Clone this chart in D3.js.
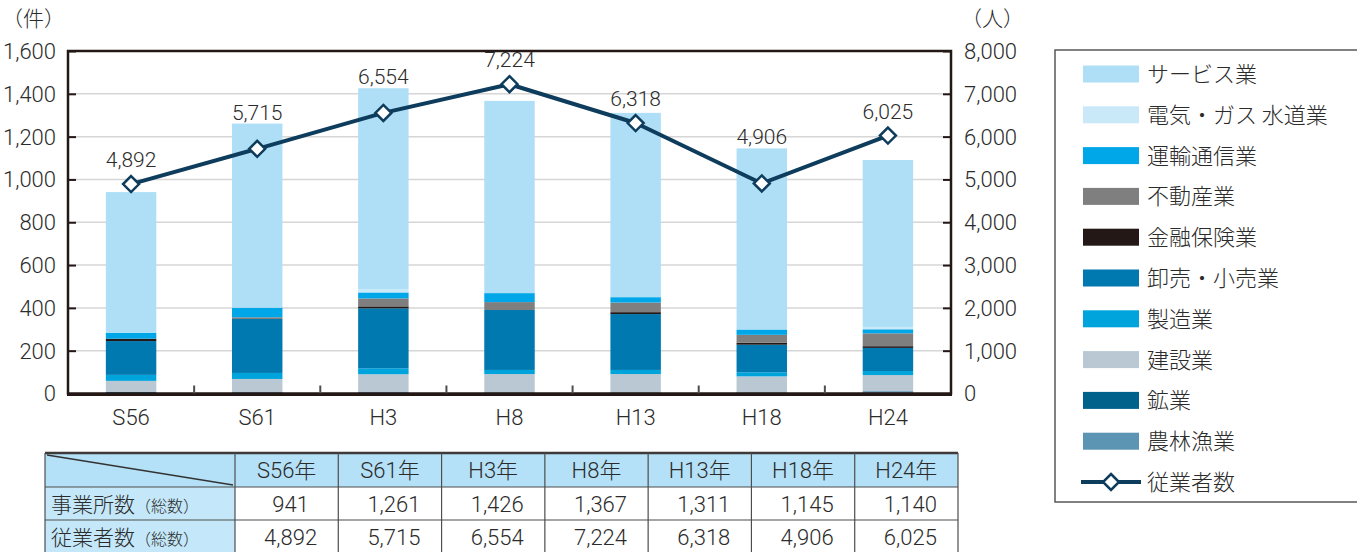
<!DOCTYPE html>
<meta charset="utf-8">
<title>事業所数と従業者数の推移</title>
<script src="https://d3js.org/d3.v7.min.js"></script>
<style>
  body { margin: 0; background: #fff; }
  text { font-family: "Roboto", "Noto Sans CJK JP", sans-serif; font-weight: 300; fill: #2b2b2b; }
  .jp { font-family: "Noto Sans CJK JP", sans-serif; font-weight: 300; }
</style>
<body>
<div id="chart"></div>
<script>
// years (x categories)
var years = ["S56", "S61", "H3", "H8", "H13", "H18", "H24"];

// establishments by industry (件)
var agri      = [3, 3, 3, 3, 3, 3, 11];          // 農林漁業
var mining    = [4, 3, 3, 2, 2, 2, 0];           // 鉱業
var construct = [52, 62, 84, 86, 86, 75, 75];    // 建設業
var manufact  = [28, 28, 28, 19, 19, 19, 19];    // 製造業
var retail    = [158, 252, 280, 280, 261, 129, 108]; // 卸売・小売業
var finance   = [11, 0, 9, 0, 9, 9, 8];          // 金融保険業
var realty    = [0, 8, 37, 37, 45, 37, 60];      // 不動産業
var transport = [28, 45, 28, 42, 25, 25, 19];    // 運輸通信業
var utility   = [0, 0, 14, 0, 0, 0, 11];         // 電気・ガス 水道業
var service   = [657, 860, 940, 898, 861, 846, 780]; // サービス業

// totals (table) and employees (line)
var offices   = [941, 1261, 1426, 1367, 1311, 1145, 1140];
var employees = [4892, 5715, 6554, 7224, 6318, 4906, 6025];

var leftTicks = [0, 200, 400, 600, 800, 1000, 1200, 1400, 1600];
var rightTicks = [0, 1000, 2000, 3000, 4000, 5000, 6000, 7000, 8000];

// series, bottom to top of the stack
var series = [
  {key: "agri", name: "農林漁業", values: agri, color: "#5b95b3"},
  {key: "mining", name: "鉱業", values: mining, color: "#00618b"},
  {key: "construct", name: "建設業", values: construct, color: "#b9c8d2"},
  {key: "manufact", name: "製造業", values: manufact, color: "#00a4dc"},
  {key: "retail", name: "卸売・小売業", values: retail, color: "#0079b0"},
  {key: "finance", name: "金融保険業", values: finance, color: "#231815"},
  {key: "realty", name: "不動産業", values: realty, color: "#7f7f7f"},
  {key: "transport", name: "運輸通信業", values: transport, color: "#00a7e8"},
  {key: "utility", name: "電気・ガス 水道業", values: utility, color: "#c9e9f9"},
  {key: "service", name: "サービス業", values: service, color: "#aedff6"}
];

var W = 1357, H = 552;
var plot = {left: 68, right: 951, top: 51, bottom: 393.5};

var svg = d3.select("#chart").append("svg")
  .attr("width", W).attr("height", H);

var rows = years.map(function(y, i) {
  var r = {year: y};
  series.forEach(function(s) { r[s.key] = s.values[i]; });
  return r;
});

var x = d3.scaleBand().domain(years)
  .range([plot.left, plot.right])
  .paddingInner(0.6).paddingOuter(0.3);
var step = x.step();

var y = d3.scaleLinear().domain([0, 1600]).range([plot.bottom, plot.top]);
var yR = d3.scaleLinear().domain([0, 8000]).range([plot.bottom, plot.top]);

// gridlines
svg.append("g").selectAll("line")
  .data(leftTicks.filter(function(t) { return t > 0 && t < 1600; }))
  .enter().append("line")
    .attr("x1", plot.left).attr("x2", plot.right)
    .attr("y1", function(d) { return y(d); })
    .attr("y2", function(d) { return y(d); })
    .attr("stroke", "#d6d6d6").attr("stroke-width", 1.5);

// stacked bars
var stack = d3.stack().keys(series.map(function(s) { return s.key; }));
var layers = stack(rows);
svg.append("g").selectAll("g")
  .data(layers)
  .enter().append("g")
    .attr("fill", function(d, i) { return series[i].color; })
  .selectAll("rect")
  .data(function(d) { return d; })
  .enter().append("rect")
    .attr("x", function(d) { return x(d.data.year); })
    .attr("width", x.bandwidth())
    .attr("y", function(d) { return y(d[1]); })
    .attr("height", function(d) { return y(d[0]) - y(d[1]); });

// frame and axes
var axisColor = "#231815";
svg.append("rect")
  .attr("x", plot.left).attr("y", plot.top)
  .attr("width", plot.right - plot.left).attr("height", plot.bottom - plot.top)
  .attr("fill", "none").attr("stroke", axisColor).attr("stroke-width", 2.5);
svg.append("line")
  .attr("x1", plot.left - 1).attr("x2", plot.right + 1)
  .attr("y1", plot.bottom + 1).attr("y2", plot.bottom + 1)
  .attr("stroke", axisColor).attr("stroke-width", 3);

var yAxisL = svg.append("g")
  .attr("transform", "translate(" + plot.left + ",0)")
  .call(d3.axisRight(y).tickValues(leftTicks).tickSize(8).tickFormat(""));
var yAxisR = svg.append("g")
  .attr("transform", "translate(" + plot.right + ",0)")
  .call(d3.axisLeft(yR).tickValues(rightTicks).tickSize(8).tickFormat(""));
[yAxisL, yAxisR].forEach(function(a) {
  a.select(".domain").remove();
  a.selectAll("line").attr("stroke", axisColor).attr("stroke-width", 2);
});

// tick labels
svg.append("g").selectAll("text")
  .data(leftTicks).enter().append("text")
    .attr("x", 56).attr("y", function(d) { return y(d); })
    .attr("dy", "0.36em").attr("text-anchor", "end")
    .attr("font-size", 22)
    .text(function(d) { return d3.format(",")(d); });
svg.append("g").selectAll("text")
  .data(rightTicks).enter().append("text")
    .attr("x", 964).attr("y", function(d) { return yR(d); })
    .attr("dy", "0.36em").attr("text-anchor", "start")
    .attr("font-size", 22)
    .text(function(d) { return d3.format(",")(d); });

svg.append("text").attr("class", "jp").attr("x", 2).attr("y", 26)
  .attr("font-size", 21).text("（件）");
svg.append("text").attr("class", "jp").attr("x", 961).attr("y", 26)
  .attr("font-size", 21).text("（人）");

// x ticks between bands
svg.append("g").selectAll("line")
  .data(years.slice(1)).enter().append("line")
    .attr("x1", function(d) { return x(d) - step * 0.3; })
    .attr("x2", function(d) { return x(d) - step * 0.3; })
    .attr("y1", plot.bottom).attr("y2", plot.bottom - 8)
    .attr("stroke", "#4d4d4d").attr("stroke-width", 2);

svg.append("g").selectAll("text")
  .data(years).enter().append("text")
    .attr("x", function(d) { return x(d) + x.bandwidth() / 2; })
    .attr("y", 425).attr("text-anchor", "middle")
    .attr("font-size", 22)
    .text(function(d) { return d; });

// employees line
var cx = function(d, i) { return x(years[i]) + x.bandwidth() / 2; };
var lineColor = "#0e3c5c";
svg.append("path")
  .datum(employees)
  .attr("fill", "none").attr("stroke", lineColor).attr("stroke-width", 4)
  .attr("stroke-linejoin", "round")
  .attr("d", d3.line().x(cx).y(function(d) { return yR(d); }));

var diamond = "M0,-8L8,0L0,8L-8,0Z";
svg.append("g").selectAll("path")
  .data(employees).enter().append("path")
    .attr("d", diamond)
    .attr("transform", function(d, i) { return "translate(" + cx(d, i) + "," + yR(d) + ")"; })
    .attr("fill", "#fff").attr("stroke", lineColor).attr("stroke-width", 2.5);

// value labels sit above whichever is higher: the marker or the bar
svg.append("g").selectAll("text")
  .data(employees).enter().append("text")
    .attr("x", cx)
    .attr("y", function(d, i) { return Math.min(yR(d) - 17, y(offices[i]) - 4); })
    .attr("text-anchor", "middle").attr("font-size", 21)
    .text(function(d) { return d3.format(",")(d); });

// legend
var lg = svg.append("g");
lg.append("rect")
  .attr("x", 1055).attr("y", 50).attr("width", 330).attr("height", 452)
  .attr("fill", "none").attr("stroke", "#595757").attr("stroke-width", 1.5);
var legendItems = series.slice().reverse();
var lgY = d3.scalePoint().domain(d3.range(legendItems.length + 1)).range([74, 482]);
legendItems.forEach(function(s, i) {
  lg.append("rect")
    .attr("x", 1083).attr("y", lgY(i) - 8.5).attr("width", 56).attr("height", 17)
    .attr("fill", s.color);
  lg.append("text").attr("class", "jp")
    .attr("x", 1147).attr("y", lgY(i)).attr("dy", "0.36em")
    .attr("font-size", 22).text(s.name);
});
var ly = lgY(legendItems.length);
lg.append("line").attr("x1", 1081).attr("x2", 1141).attr("y1", ly).attr("y2", ly)
  .attr("stroke", lineColor).attr("stroke-width", 4);
lg.append("path").attr("d", diamond)
  .attr("transform", "translate(1111," + ly + ")")
  .attr("fill", "#fff").attr("stroke", lineColor).attr("stroke-width", 2.5);
lg.append("text").attr("class", "jp")
  .attr("x", 1147).attr("y", ly).attr("dy", "0.36em")
  .attr("font-size", 22).text("従業者数");

// table
var tb = {left: 45, first: 235, right: 958, rows: [453, 487, 520, 553]};
var colX = d3.scaleBand().domain(years).range([tb.first, tb.right]);
var t = svg.append("g");
t.append("rect").attr("x", tb.left).attr("y", tb.rows[0])
  .attr("width", tb.right - tb.left).attr("height", tb.rows[1] - tb.rows[0])
  .attr("fill", "#b4e1f7");
t.append("rect").attr("x", tb.left).attr("y", tb.rows[1])
  .attr("width", tb.first - tb.left).attr("height", tb.rows[3] - tb.rows[1])
  .attr("fill", "#c4e8f9");
tb.rows.slice(1).forEach(function(ry) {
  t.append("line").attr("x1", tb.left).attr("x2", tb.right)
    .attr("y1", ry).attr("y2", ry).attr("stroke", "#4d4d4d").attr("stroke-width", 1.2);
});
t.append("line").attr("x1", tb.left).attr("x2", tb.right)
  .attr("y1", tb.rows[0]).attr("y2", tb.rows[0])
  .attr("stroke", "#3e3a39").attr("stroke-width", 2.5);
[tb.left, tb.first].concat(years.slice(1).map(function(d) { return colX(d); }), [tb.right])
  .forEach(function(cxv) {
    t.append("line").attr("x1", cxv).attr("x2", cxv)
      .attr("y1", tb.rows[0]).attr("y2", tb.rows[3])
      .attr("stroke", "#4d4d4d").attr("stroke-width", 1.2);
  });
t.append("line").attr("x1", tb.left + 2).attr("y1", tb.rows[0] + 2)
  .attr("x2", tb.first - 2).attr("y2", tb.rows[1] - 2)
  .attr("stroke", "#333").attr("stroke-width", 1.5);

years.forEach(function(yr, i) {
  var mx = colX(yr) + colX.bandwidth() / 2;
  t.append("text").attr("x", mx).attr("y", 470).attr("dy", "0.36em")
    .attr("text-anchor", "middle").attr("font-size", 22)
    .text(yr).append("tspan").attr("class", "jp").text("年");
  t.append("text").attr("x", mx + 4).attr("y", 504).attr("dy", "0.36em")
    .attr("text-anchor", "middle").attr("font-size", 22)
    .text(d3.format(",")(offices[i]));
  t.append("text").attr("x", mx + 4).attr("y", 537).attr("dy", "0.36em")
    .attr("text-anchor", "middle").attr("font-size", 22)
    .text(d3.format(",")(employees[i]));
});
[["事業所数", 504], ["従業者数", 537]].forEach(function(r) {
  var tx = t.append("text").attr("class", "jp").attr("x", 51).attr("y", r[1])
    .attr("dy", "0.36em").attr("font-size", 21).text(r[0]);
  tx.append("tspan").attr("font-size", 16).text("（総数）");
});
</script>
</body>
